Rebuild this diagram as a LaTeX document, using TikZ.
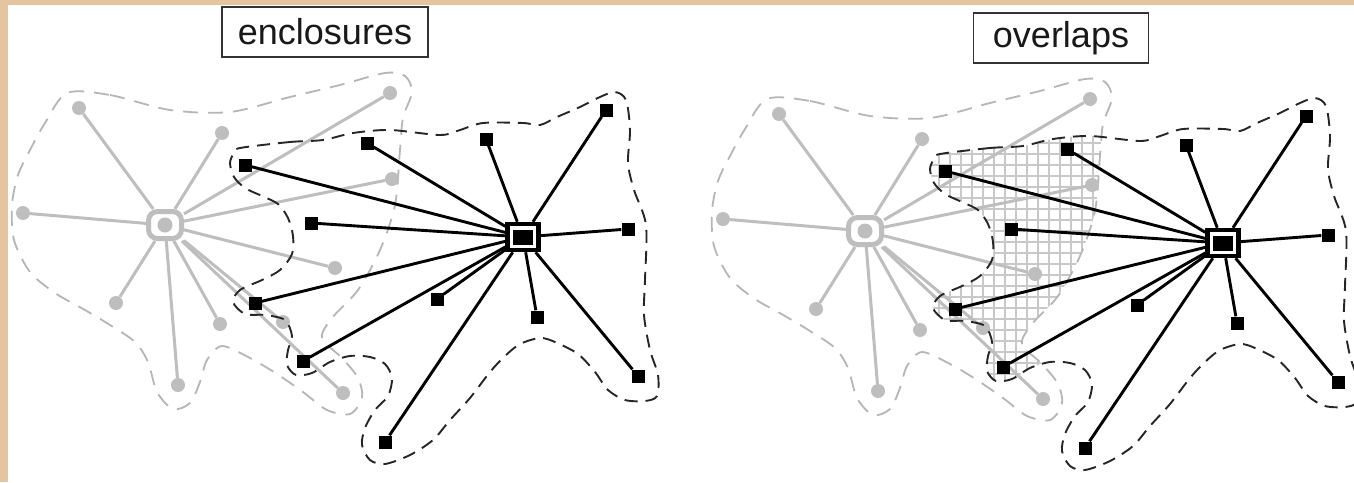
\documentclass[tikz,border=0pt]{standalone}
\usepackage{fontspec}
\setmainfont{Liberation Sans}

\definecolor{parch}{RGB}{229,196,160}
\definecolor{netgray}{RGB}{190,190,190}
\definecolor{rimgray}{RGB}{182,182,182}
\definecolor{hatchgray}{RGB}{200,200,200}

% outlines of the two groups (left picture, pixel units)
\newcommand{\grayrimpath}{plot[smooth cycle] coordinates {(67,93) (110,95) (170,110) (230,112) (290,97) (340,85) (385,73) (405,76) (412,92) (403,118) (400,150) (395,205) (380,250) (358,290) (332,318) (322,338) (342,358) (358,378) (362,398) (350,414) (327,410) (303,392) (277,374) (250,358) (222,346) (207,360) (200,382) (190,403) (173,409) (157,392) (148,362) (135,342) (110,325) (85,310) (55,293) (30,272) (14,240) (12,205) (18,175) (30,150) (45,123)}}
\newcommand{\blackrimpath}{plot[smooth cycle] coordinates {(240,148) (290,142) (323,140) (353,133) (390,130) (440,135) (460,130) (483,123) (523,123) (540,125) (557,117) (580,107) (600,97) (615,92) (626,100) (630,130) (628,163) (634,190) (646,225) (645,280) (644,315) (650,350) (658,375) (657,396) (645,401) (625,400) (608,390) (595,372) (578,354) (555,342) (540,338) (520,344) (505,356) (490,372) (470,398) (450,420) (433,440) (410,455) (385,464) (370,460) (362,445) (365,428) (375,410) (388,396) (392,378) (385,364) (370,357) (350,356) (330,362) (312,373) (296,375) (287,365) (288,350) (292,336) (285,320) (265,315) (245,314) (233,302) (240,290) (262,280) (280,270) (292,254) (293,236) (288,218) (278,204) (262,196) (245,188) (234,177) (230,163) (234,153)}}

\begin{document}
\begin{tikzpicture}[
  x=1pt, y=-1pt,
  titlebox/.style={draw=black!80, line width=1.6pt, fill=white, minimum height=50pt, inner sep=0pt, text=black!90, font=\fontsize{36}{40}\selectfont},
  grayrim/.style={draw=rimgray, line width=1.8pt, dash pattern=on 15pt off 10pt},
  blackrim/.style={draw=black!85, line width=1.9pt, dash pattern=on 13pt off 8pt},
  grayhub/.style={rectangle, rounded corners=9pt, draw=netgray, line width=5pt, fill=white, minimum width=33pt, minimum height=27pt, inner sep=0pt,
    path picture={\fill[netgray] (path picture bounding box.center) circle (7.5pt);}},
  graydot/.style={circle, fill=netgray, minimum size=14pt, inner sep=0pt},
  grayedge/.style={draw=netgray, line width=3pt},
  blackhub/.style={rectangle, draw=black, line width=4.5pt, fill=white, minimum width=31pt, minimum height=26pt, inner sep=0pt,
    path picture={\fill[black] (path picture bounding box.center) +(-10pt,-7.5pt) rectangle +(10pt,7.5pt);}},
  blacknode/.style={rectangle, fill=black, minimum size=13pt, inner sep=0pt},
  blackedge/.style={draw=black, line width=2.9pt},
  hatchline/.style={draw=hatchgray, line width=1.3pt}
]
  \useasboundingbox (0,0) rectangle (1354,482);
  \fill[white] (0,0) rectangle (1354,482);
  \fill[parch] (0,0) rectangle (8,482);
  \fill[parch] (0,0) rectangle (1354,5);

  \node[titlebox, minimum width=206pt] (enctitle) at (325,32) {enclosures};
  \node[titlebox, minimum width=175pt] (ovltitle) at (1061,38) {overlaps};

  % overlap of the two groups, right picture
  \begin{scope}[shift={(700,6)}]
    \clip \grayrimpath;
    \clip \blackrimpath;
    \foreach \hx in {0,...,17}
      \draw[hatchline] (239+11*\hx,110) -- (239+11*\hx,420);
    \foreach \hy in {0,...,26}
      \draw[hatchline] (220,126+11*\hy) -- (440,126+11*\hy);
  \end{scope}

  \foreach \side/\dx/\dy in {L/0/0,R/700/6}{
    \begin{scope}[shift={(\dx,\dy)}]
      \draw[grayrim] \grayrimpath;
      \node[grayhub] (\side-ghub) at (165,225) {};
      \foreach \px/\py [count=\i] in {79/108,222/133,390/93,392/179,23/213,335/268,116/303,220/324,283/322,178/385,343/393}
        \node[graydot] (\side-g\i) at (\px,\py) {};
      \foreach \i in {1,...,11}
        \draw[grayedge] (\side-ghub) -- (\side-g\i);

      \draw[blackrim] \blackrimpath;
      \node[blackhub] (\side-bhub) at (523,237) {};
      \foreach \px/\py [count=\i] in {245/165,367/143,486/139,606/110,311/223,628/229,255/303,437/299,537/317,303/361,638/376,385/442}
        \node[blacknode] (\side-b\i) at (\px,\py) {};
      \foreach \i in {1,...,12}
        \draw[blackedge] (\side-bhub) -- (\side-b\i);
    \end{scope}
  }
\end{tikzpicture}
\end{document}
